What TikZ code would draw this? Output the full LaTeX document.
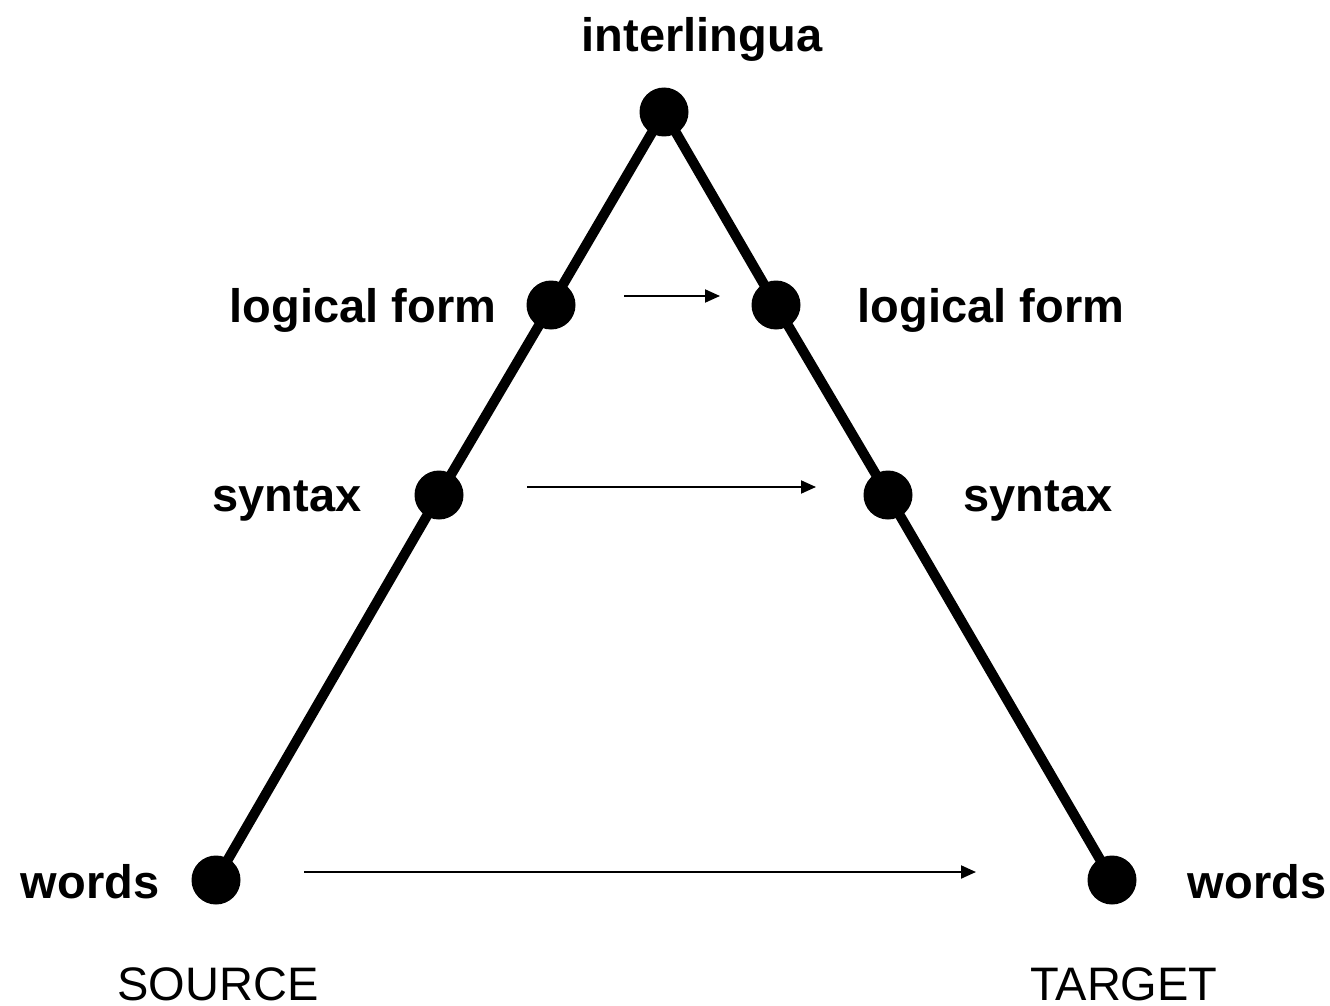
\documentclass[tikz,border=0pt]{standalone}
\usepackage{fontspec}
\setmainfont{Liberation Sans}
\usetikzlibrary{arrows.meta}
\begin{document}
\begin{tikzpicture}[x=1pt,y=-1pt,
  dot/.style={circle,fill=black,inner sep=0pt,minimum size=49pt},
  lbl/.style={font=\fontsize{47}{56}\selectfont\bfseries,inner sep=0pt,anchor=base},
  side/.style={font=\fontsize{47}{56}\selectfont,inner sep=0pt,anchor=base},
  edge/.style={line width=10pt},
  xfer/.style={line width=2pt,-{Triangle[length=15pt,width=13pt]}}]
\useasboundingbox (0,0) rectangle (1330,1006);
\node[dot] (top) at (664,112) {};
\node[dot] (lfL) at (551,305) {};
\node[dot] (lfR) at (776,305) {};
\node[dot] (snL) at (439,495) {};
\node[dot] (snR) at (888,495) {};
\node[dot] (wdL) at (216,880) {};
\node[dot] (wdR) at (1112,880) {};
\draw[edge] (wdL.center) -- (snL.center) -- (lfL.center) -- (top.center) -- (lfR.center) -- (snR.center) -- (wdR.center);
\node[lbl] (tI) at (702,52) {interlingua};
\node[lbl] (tLL) at (363,322) {logical form};
\node[lbl] (tLR) at (991,322) {logical form};
\node[lbl] (tSL) at (287,511) {syntax};
\node[lbl] (tSR) at (1038,511) {syntax};
\node[lbl] (tWL) at (90,898) {words};
\node[lbl] (tWR) at (1257,898) {words};
\node[side] (src) at (218,1000) {SOURCE};
\node[side] (tgt) at (1124,1000) {TARGET};
\coordinate (a1s) at (624,296); \coordinate (a1e) at (720,296);
\coordinate (a2s) at (527,487); \coordinate (a2e) at (816,487);
\coordinate (a3s) at (304,872); \coordinate (a3e) at (976,872);
\draw[xfer] (a1s) -- (a1e);
\draw[xfer] (a2s) -- (a2e);
\draw[xfer] (a3s) -- (a3e);
\end{tikzpicture}
\end{document}
